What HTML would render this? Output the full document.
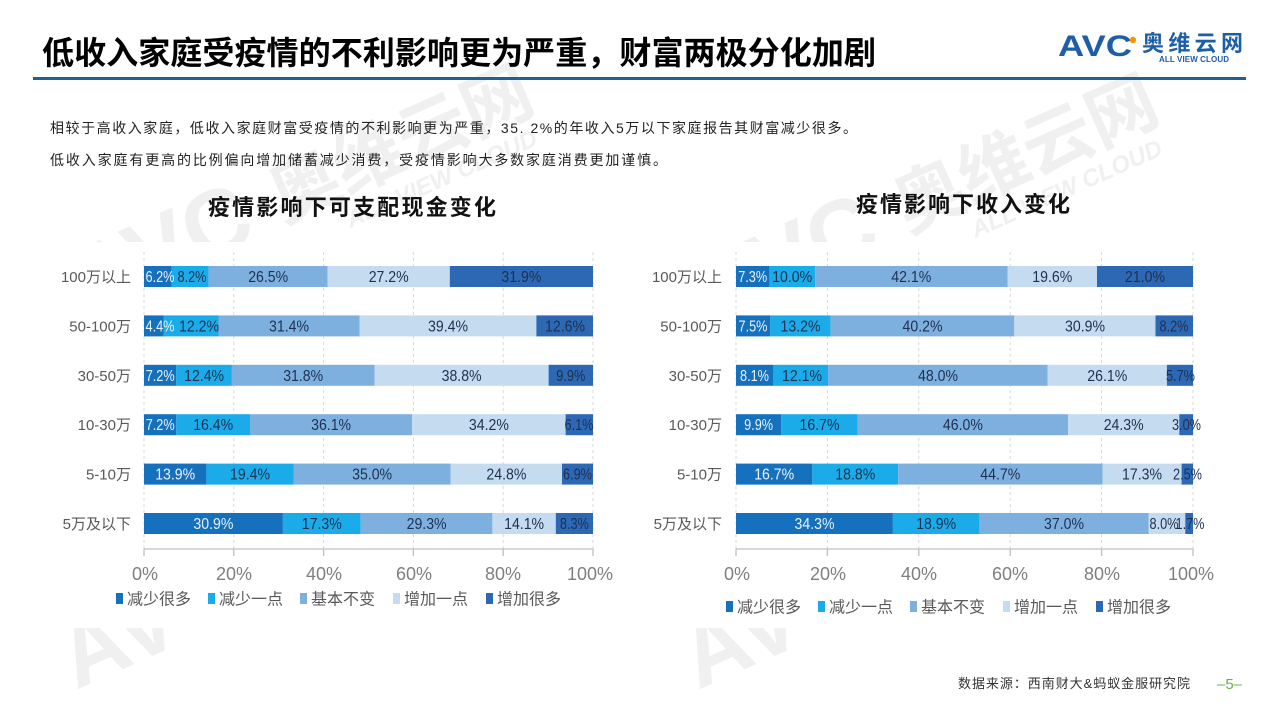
<!DOCTYPE html>
<html>
<head>
<meta charset="utf-8">
<style>
  html,body{margin:0;padding:0;background:#fff;}
  body{width:1280px;height:720px;overflow:hidden;}
  svg{display:block;font-family:"Liberation Sans","Noto Sans CJK SC",sans-serif;}
</style>
</head>
<body>
<svg width="1280" height="720" viewBox="0 0 1280 720" xmlns="http://www.w3.org/2000/svg">
  <rect x="0" y="0" width="1280" height="720" fill="#ffffff"/>

  <!-- watermarks -->
  <g fill="#f0f0f0" font-weight="bold" font-family="Liberation Sans, Noto Sans CJK SC, sans-serif">
    <g transform="translate(120,300) rotate(-24)">
      <text x="-35" y="0" font-size="92">AVC</text>
      <text x="180" y="-4" font-size="70" font-family="Noto Sans CJK SC, sans-serif">奥维云网</text>
      <text x="240" y="28" font-size="24" font-style="italic">ALL VIEW CLOUD</text>
    </g>
    <g transform="translate(745,310) rotate(-24)">
      <text x="-35" y="0" font-size="92">AVC</text>
      <text x="180" y="-4" font-size="70" font-family="Noto Sans CJK SC, sans-serif">奥维云网</text>
      <text x="240" y="28" font-size="24" font-style="italic">ALL VIEW CLOUD</text>
    </g>
    <g transform="translate(76,690) rotate(-24)">
      <text x="0" y="0" font-size="92">AV</text>
    </g>
    <g transform="translate(698,690) rotate(-24)">
      <text x="0" y="0" font-size="92">AV</text>
    </g>
  </g>
  <!-- chart area mask (white plot backgrounds) -->
  <rect x="30" y="242" width="1220" height="386" fill="#ffffff"/>

  <!-- header -->
  <text x="42" y="64" font-size="32" font-weight="bold" fill="#000" textLength="834" lengthAdjust="spacingAndGlyphs" font-family="Noto Sans CJK SC, sans-serif">低收入家庭受疫情的不利影响更为严重，财富两极分化加剧</text>
  <rect x="33" y="77" width="1213" height="3" fill="#22608f"/>

  <!-- logo -->
  <text x="1058" y="56" font-size="30" font-weight="bold" fill="#1d5fa6" textLength="74" lengthAdjust="spacingAndGlyphs">AVC</text>
  <circle cx="1133" cy="40" r="3.2" fill="#f39800"/>
  <text x="1142" y="51" font-size="22" font-weight="bold" fill="#1d5fa6" textLength="101" lengthAdjust="spacing" font-family="Noto Sans CJK SC, sans-serif">奥维云网</text>
  <text x="1159" y="62" font-size="8" font-weight="bold" fill="#1d5fa6" textLength="70" lengthAdjust="spacing">ALL VIEW CLOUD</text>

  <!-- paragraphs -->
  <text x="50" y="133" font-size="14" fill="#222" textLength="807" lengthAdjust="spacing">相较于高收入家庭，低收入家庭财富受疫情的不利影响更为严重，35. 2%的年收入5万以下家庭报告其财富减少很多。</text>
  <text x="50" y="165" font-size="14" fill="#222" textLength="617" lengthAdjust="spacing">低收入家庭有更高的比例偏向增加储蓄减少消费，受疫情影响大多数家庭消费更加谨慎。</text>

  <!-- chart titles -->
  <text x="208" y="215" font-size="22" font-weight="bold" fill="#111" textLength="288" lengthAdjust="spacing" font-family="Noto Sans CJK SC, sans-serif">疫情影响下可支配现金变化</text>
  <text x="856" y="212" font-size="22" font-weight="bold" fill="#111" textLength="214" lengthAdjust="spacing" font-family="Noto Sans CJK SC, sans-serif">疫情影响下收入变化</text>

  <!-- gridlines -->
  <g stroke="#d9d9d9" stroke-width="1" stroke-dasharray="3,3">
    <line x1="144" y1="252" x2="144" y2="549"/>
    <line x1="233.8" y1="252" x2="233.8" y2="549"/>
    <line x1="323.6" y1="252" x2="323.6" y2="549"/>
    <line x1="413.4" y1="252" x2="413.4" y2="549"/>
    <line x1="503.2" y1="252" x2="503.2" y2="549"/>
    <line x1="593" y1="252" x2="593" y2="549"/>
    <line x1="736" y1="252" x2="736" y2="549"/>
    <line x1="827.4" y1="252" x2="827.4" y2="549"/>
    <line x1="918.8" y1="252" x2="918.8" y2="549"/>
    <line x1="1010.2" y1="252" x2="1010.2" y2="549"/>
    <line x1="1101.6" y1="252" x2="1101.6" y2="549"/>
    <line x1="1193" y1="252" x2="1193" y2="549"/>
  </g>

  <!-- axes -->
  <g stroke="#bfbfbf" stroke-width="1.3">
    <line x1="144" y1="549" x2="593" y2="549"/>
    <line x1="144" y1="549" x2="144" y2="556"/>
    <line x1="233.8" y1="549" x2="233.8" y2="556"/>
    <line x1="323.6" y1="549" x2="323.6" y2="556"/>
    <line x1="413.4" y1="549" x2="413.4" y2="556"/>
    <line x1="503.2" y1="549" x2="503.2" y2="556"/>
    <line x1="593" y1="549" x2="593" y2="556"/>
    <line x1="736" y1="549" x2="1193" y2="549"/>
    <line x1="736" y1="549" x2="736" y2="556"/>
    <line x1="827.4" y1="549" x2="827.4" y2="556"/>
    <line x1="918.8" y1="549" x2="918.8" y2="556"/>
    <line x1="1010.2" y1="549" x2="1010.2" y2="556"/>
    <line x1="1101.6" y1="549" x2="1101.6" y2="556"/>
    <line x1="1193" y1="549" x2="1193" y2="556"/>
  </g>

  <!-- tick labels -->
  <g font-size="18" fill="#7f7f7f" text-anchor="middle">
    <text x="145" y="580">0%</text>
    <text x="234" y="580">20%</text>
    <text x="324" y="580">40%</text>
    <text x="414" y="580">60%</text>
    <text x="503" y="580">80%</text>
    <text x="590" y="580">100%</text>
    <text x="737" y="580">0%</text>
    <text x="828" y="580">20%</text>
    <text x="919" y="580">40%</text>
    <text x="1010" y="580">60%</text>
    <text x="1102" y="580">80%</text>
    <text x="1191" y="580">100%</text>
  </g>

  <!-- category labels -->
  <g font-size="15" fill="#595959" text-anchor="end">
    <text x="131" y="282">100万以上</text>
    <text x="131" y="331.4">50-100万</text>
    <text x="131" y="380.8">30-50万</text>
    <text x="131" y="430.2">10-30万</text>
    <text x="131" y="479.6">5-10万</text>
    <text x="131" y="529">5万及以下</text>
    <text x="722" y="282">100万以上</text>
    <text x="722" y="331.4">50-100万</text>
    <text x="722" y="380.8">30-50万</text>
    <text x="722" y="430.2">10-30万</text>
    <text x="722" y="479.6">5-10万</text>
    <text x="722" y="529">5万及以下</text>
  </g>

  <!-- LEFT bars -->
  <g>
    <rect x="144" y="266" width="27.8" height="21" fill="#1570be"/>
    <rect x="171.8" y="266" width="36.9" height="21" fill="#1babe9"/>
    <rect x="208.7" y="266" width="118.9" height="21" fill="#7db0df"/>
    <rect x="327.6" y="266" width="122.2" height="21" fill="#c5dbf0"/>
    <rect x="449.8" y="266" width="143.2" height="21" fill="#2c68b3"/>

    <rect x="144" y="315.4" width="19.8" height="21" fill="#1570be"/>
    <rect x="163.8" y="315.4" width="54.7" height="21" fill="#1babe9"/>
    <rect x="218.5" y="315.4" width="141" height="21" fill="#7db0df"/>
    <rect x="359.5" y="315.4" width="176.9" height="21" fill="#c5dbf0"/>
    <rect x="536.4" y="315.4" width="56.6" height="21" fill="#2c68b3"/>

    <rect x="144" y="364.8" width="32.3" height="21" fill="#1570be"/>
    <rect x="176.3" y="364.8" width="55.6" height="21" fill="#1babe9"/>
    <rect x="231.9" y="364.8" width="142.7" height="21" fill="#7db0df"/>
    <rect x="374.6" y="364.8" width="174" height="21" fill="#c5dbf0"/>
    <rect x="548.6" y="364.8" width="44.4" height="21" fill="#2c68b3"/>

    <rect x="144" y="414.2" width="32.3" height="21" fill="#1570be"/>
    <rect x="176.3" y="414.2" width="73.7" height="21" fill="#1babe9"/>
    <rect x="250" y="414.2" width="162.1" height="21" fill="#7db0df"/>
    <rect x="412.1" y="414.2" width="153.5" height="21" fill="#c5dbf0"/>
    <rect x="565.6" y="414.2" width="27.4" height="21" fill="#2c68b3"/>

    <rect x="144" y="463.6" width="62.4" height="21" fill="#1570be"/>
    <rect x="206.4" y="463.6" width="87.1" height="21" fill="#1babe9"/>
    <rect x="293.5" y="463.6" width="157.2" height="21" fill="#7db0df"/>
    <rect x="450.7" y="463.6" width="111.3" height="21" fill="#c5dbf0"/>
    <rect x="562" y="463.6" width="31" height="21" fill="#2c68b3"/>

    <rect x="144" y="513" width="138.9" height="21" fill="#1570be"/>
    <rect x="282.9" y="513" width="77.8" height="21" fill="#1babe9"/>
    <rect x="360.7" y="513" width="131.7" height="21" fill="#7db0df"/>
    <rect x="492.4" y="513" width="63.4" height="21" fill="#c5dbf0"/>
    <rect x="555.8" y="513" width="37.2" height="21" fill="#2c68b3"/>
  </g>

  <!-- RIGHT bars -->
  <g>
    <rect x="736" y="266" width="33.4" height="21" fill="#1570be"/>
    <rect x="769.4" y="266" width="45.7" height="21" fill="#1babe9"/>
    <rect x="815.1" y="266" width="192.4" height="21" fill="#7db0df"/>
    <rect x="1007.5" y="266" width="89.5" height="21" fill="#c5dbf0"/>
    <rect x="1097" y="266" width="96" height="21" fill="#2c68b3"/>

    <rect x="736" y="315.4" width="34.3" height="21" fill="#1570be"/>
    <rect x="770.3" y="315.4" width="60.3" height="21" fill="#1babe9"/>
    <rect x="830.6" y="315.4" width="183.7" height="21" fill="#7db0df"/>
    <rect x="1014.3" y="315.4" width="141.2" height="21" fill="#c5dbf0"/>
    <rect x="1155.5" y="315.4" width="37.5" height="21" fill="#2c68b3"/>

    <rect x="736" y="364.8" width="37" height="21" fill="#1570be"/>
    <rect x="773" y="364.8" width="55.3" height="21" fill="#1babe9"/>
    <rect x="828.3" y="364.8" width="219.4" height="21" fill="#7db0df"/>
    <rect x="1047.7" y="364.8" width="119.2" height="21" fill="#c5dbf0"/>
    <rect x="1166.9" y="364.8" width="26.1" height="21" fill="#2c68b3"/>

    <rect x="736" y="414.2" width="45.3" height="21" fill="#1570be"/>
    <rect x="781.3" y="414.2" width="76.4" height="21" fill="#1babe9"/>
    <rect x="857.7" y="414.2" width="210.4" height="21" fill="#7db0df"/>
    <rect x="1068.1" y="414.2" width="111.2" height="21" fill="#c5dbf0"/>
    <rect x="1179.3" y="414.2" width="13.7" height="21" fill="#2c68b3"/>

    <rect x="736" y="463.6" width="76.3" height="21" fill="#1570be"/>
    <rect x="812.3" y="463.6" width="85.9" height="21" fill="#1babe9"/>
    <rect x="898.2" y="463.6" width="204.3" height="21" fill="#7db0df"/>
    <rect x="1102.5" y="463.6" width="79.1" height="21" fill="#c5dbf0"/>
    <rect x="1181.6" y="463.6" width="11.4" height="21" fill="#2c68b3"/>

    <rect x="736" y="513" width="156.9" height="21" fill="#1570be"/>
    <rect x="892.9" y="513" width="86.5" height="21" fill="#1babe9"/>
    <rect x="979.4" y="513" width="169.3" height="21" fill="#7db0df"/>
    <rect x="1148.7" y="513" width="36.6" height="21" fill="#c5dbf0"/>
    <rect x="1185.3" y="513" width="7.7" height="21" fill="#2c68b3"/>
  </g>

  <!-- data labels: light -->
  <g font-size="16" fill="#eaf3fb" text-anchor="middle">
    <text x="160" y="282" textLength="29" lengthAdjust="spacingAndGlyphs">6.2%</text>
    <text x="160" y="331.4" textLength="29" lengthAdjust="spacingAndGlyphs">4.4%</text>
    <text x="160.2" y="380.8" textLength="29" lengthAdjust="spacingAndGlyphs">7.2%</text>
    <text x="160.2" y="430.2" textLength="29" lengthAdjust="spacingAndGlyphs">7.2%</text>
    <text x="175.2" y="479.6" textLength="40" lengthAdjust="spacingAndGlyphs">13.9%</text>
    <text x="213.4" y="529" textLength="40" lengthAdjust="spacingAndGlyphs">30.9%</text>
    <text x="752.7" y="282" textLength="29" lengthAdjust="spacingAndGlyphs">7.3%</text>
    <text x="753" y="331.4" textLength="29" lengthAdjust="spacingAndGlyphs">7.5%</text>
    <text x="754.5" y="380.8" textLength="29" lengthAdjust="spacingAndGlyphs">8.1%</text>
    <text x="758.6" y="430.2" textLength="29" lengthAdjust="spacingAndGlyphs">9.9%</text>
    <text x="774.2" y="479.6" textLength="40" lengthAdjust="spacingAndGlyphs">16.7%</text>
    <text x="814.5" y="529" textLength="40" lengthAdjust="spacingAndGlyphs">34.3%</text>
  </g>

  <!-- data labels: dark -->
  <g font-size="16" fill="#1f3050" text-anchor="middle">
    <text x="192" y="282" textLength="29" lengthAdjust="spacingAndGlyphs">8.2%</text>
    <text x="268.2" y="282" textLength="40" lengthAdjust="spacingAndGlyphs">26.5%</text>
    <text x="388.7" y="282" textLength="40" lengthAdjust="spacingAndGlyphs">27.2%</text>
    <text x="521.4" y="282" textLength="40" lengthAdjust="spacingAndGlyphs">31.9%</text>

    <text x="199" y="331.4" textLength="40" lengthAdjust="spacingAndGlyphs">12.2%</text>
    <text x="289" y="331.4" textLength="40" lengthAdjust="spacingAndGlyphs">31.4%</text>
    <text x="448" y="331.4" textLength="40" lengthAdjust="spacingAndGlyphs">39.4%</text>
    <text x="565" y="331.4" textLength="40" lengthAdjust="spacingAndGlyphs">12.6%</text>

    <text x="204.1" y="380.8" textLength="40" lengthAdjust="spacingAndGlyphs">12.4%</text>
    <text x="303.2" y="380.8" textLength="40" lengthAdjust="spacingAndGlyphs">31.8%</text>
    <text x="461.6" y="380.8" textLength="40" lengthAdjust="spacingAndGlyphs">38.8%</text>
    <text x="570.8" y="380.8" textLength="29" lengthAdjust="spacingAndGlyphs">9.9%</text>

    <text x="213.2" y="430.2" textLength="40" lengthAdjust="spacingAndGlyphs">16.4%</text>
    <text x="331.1" y="430.2" textLength="40" lengthAdjust="spacingAndGlyphs">36.1%</text>
    <text x="488.9" y="430.2" textLength="40" lengthAdjust="spacingAndGlyphs">34.2%</text>
    <text x="579" y="430.2" textLength="29" lengthAdjust="spacingAndGlyphs">6.1%</text>

    <text x="250" y="479.6" textLength="40" lengthAdjust="spacingAndGlyphs">19.4%</text>
    <text x="372.1" y="479.6" textLength="40" lengthAdjust="spacingAndGlyphs">35.0%</text>
    <text x="506.4" y="479.6" textLength="40" lengthAdjust="spacingAndGlyphs">24.8%</text>
    <text x="577.5" y="479.6" textLength="29" lengthAdjust="spacingAndGlyphs">6.9%</text>

    <text x="321.8" y="529" textLength="40" lengthAdjust="spacingAndGlyphs">17.3%</text>
    <text x="426.6" y="529" textLength="40" lengthAdjust="spacingAndGlyphs">29.3%</text>
    <text x="524.1" y="529" textLength="40" lengthAdjust="spacingAndGlyphs">14.1%</text>
    <text x="574.4" y="529" textLength="29" lengthAdjust="spacingAndGlyphs">8.3%</text>

    <text x="792.2" y="282" textLength="40" lengthAdjust="spacingAndGlyphs">10.0%</text>
    <text x="911.3" y="282" textLength="40" lengthAdjust="spacingAndGlyphs">42.1%</text>
    <text x="1052.3" y="282" textLength="40" lengthAdjust="spacingAndGlyphs">19.6%</text>
    <text x="1145" y="282" textLength="40" lengthAdjust="spacingAndGlyphs">21.0%</text>

    <text x="800.5" y="331.4" textLength="40" lengthAdjust="spacingAndGlyphs">13.2%</text>
    <text x="922.5" y="331.4" textLength="40" lengthAdjust="spacingAndGlyphs">40.2%</text>
    <text x="1085" y="331.4" textLength="40" lengthAdjust="spacingAndGlyphs">30.9%</text>
    <text x="1174" y="331.4" textLength="29" lengthAdjust="spacingAndGlyphs">8.2%</text>

    <text x="802" y="380.8" textLength="40" lengthAdjust="spacingAndGlyphs">12.1%</text>
    <text x="938" y="380.8" textLength="40" lengthAdjust="spacingAndGlyphs">48.0%</text>
    <text x="1107.3" y="380.8" textLength="40" lengthAdjust="spacingAndGlyphs">26.1%</text>
    <text x="1180.5" y="380.8" textLength="29" lengthAdjust="spacingAndGlyphs">5.7%</text>

    <text x="819.5" y="430.2" textLength="40" lengthAdjust="spacingAndGlyphs">16.7%</text>
    <text x="962.9" y="430.2" textLength="40" lengthAdjust="spacingAndGlyphs">46.0%</text>
    <text x="1123.7" y="430.2" textLength="40" lengthAdjust="spacingAndGlyphs">24.3%</text>
    <text x="1186.5" y="430.2" textLength="29" lengthAdjust="spacingAndGlyphs">3.0%</text>

    <text x="855.3" y="479.6" textLength="40" lengthAdjust="spacingAndGlyphs">18.8%</text>
    <text x="1000.3" y="479.6" textLength="40" lengthAdjust="spacingAndGlyphs">44.7%</text>
    <text x="1142" y="479.6" textLength="40" lengthAdjust="spacingAndGlyphs">17.3%</text>
    <text x="1187.5" y="479.6" textLength="29" lengthAdjust="spacingAndGlyphs">2.5%</text>

    <text x="936.2" y="529" textLength="40" lengthAdjust="spacingAndGlyphs">18.9%</text>
    <text x="1064" y="529" textLength="40" lengthAdjust="spacingAndGlyphs">37.0%</text>
    <text x="1164" y="529" textLength="29" lengthAdjust="spacingAndGlyphs">8.0%</text>
    <text x="1190" y="529" textLength="29" lengthAdjust="spacingAndGlyphs">1.7%</text>
  </g>

  <!-- legends -->
  <g font-size="16" fill="#595959">
    <rect x="116" y="593" width="7" height="11" fill="#1570be"/>
    <text x="127" y="604.5">减少很多</text>
    <rect x="208" y="593" width="7" height="11" fill="#1babe9"/>
    <text x="219" y="604.5">减少一点</text>
    <rect x="300" y="593" width="7" height="11" fill="#7db0df"/>
    <text x="311" y="604.5">基本不变</text>
    <rect x="393" y="593" width="7" height="11" fill="#c5dbf0"/>
    <text x="404" y="604.5">增加一点</text>
    <rect x="486" y="593" width="7" height="11" fill="#2c68b3"/>
    <text x="497" y="604.5">增加很多</text>

    <rect x="726" y="601" width="7" height="11" fill="#1570be"/>
    <text x="737" y="612.5">减少很多</text>
    <rect x="818" y="601" width="7" height="11" fill="#1babe9"/>
    <text x="829" y="612.5">减少一点</text>
    <rect x="910" y="601" width="7" height="11" fill="#7db0df"/>
    <text x="921" y="612.5">基本不变</text>
    <rect x="1003" y="601" width="7" height="11" fill="#c5dbf0"/>
    <text x="1014" y="612.5">增加一点</text>
    <rect x="1096" y="601" width="7" height="11" fill="#2c68b3"/>
    <text x="1107" y="612.5">增加很多</text>
  </g>

  <!-- footer -->
  <text x="958" y="688" font-size="13" fill="#333" textLength="232" lengthAdjust="spacing">数据来源：西南财大&amp;蚂蚁金服研究院</text>
  <text x="1217" y="689" font-size="15" fill="#70ad47">–5–</text>
</svg>
</body>
</html>
